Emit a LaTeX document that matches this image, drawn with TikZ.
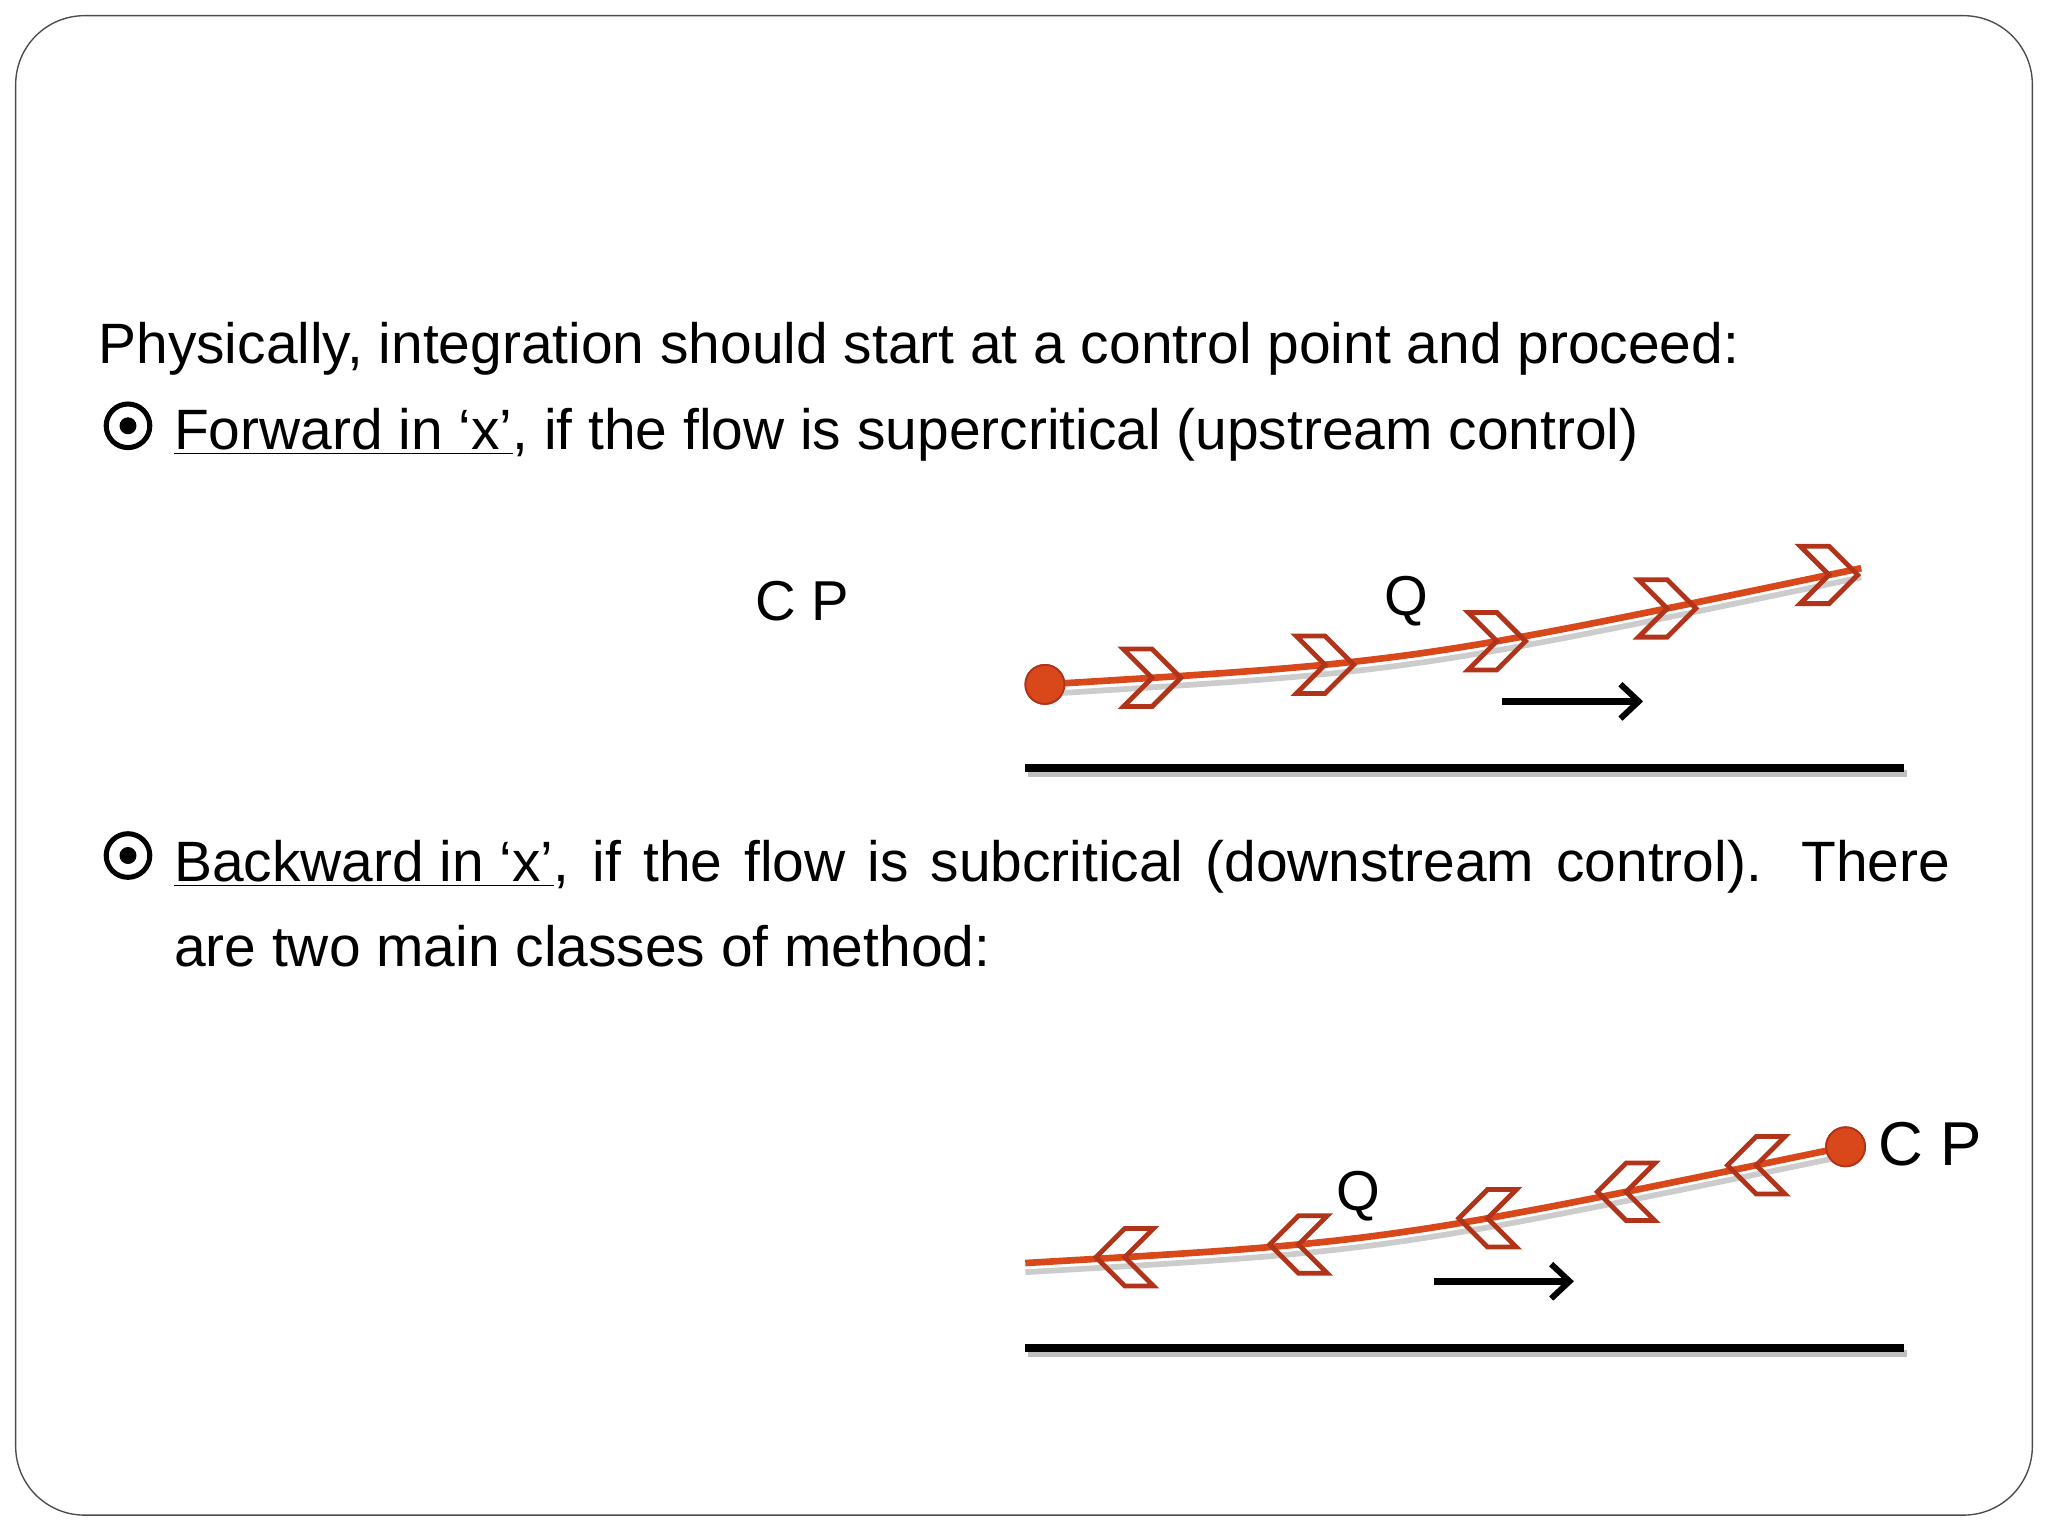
\documentclass[tikz,border=0pt]{standalone}
\usepackage{fontspec}
\setmainfont{Liberation Sans}
\usetikzlibrary{arrows.meta,decorations.markings}
\definecolor{flow}{HTML}{D9481B}
\definecolor{chev}{HTML}{B0331A}
\tikzset{
  flowline/.style={line width=2.9pt,color=flow},
  fwd/.pic={\draw[chev,line width=2.1pt,line join=miter] (-22,22)--(0,22)--(22,0)--(0,-22)--(-22,-22)--(0,0)--cycle;},
  bwd/.pic={\draw[chev,line width=2.1pt,line join=miter] (22,22)--(0,22)--(-22,0)--(0,-22)--(22,-22)--(0,0)--cycle;},
  dotcp/.style={circle,fill=flow,draw=chev,line width=0.8pt,minimum size=17pt,inner sep=0pt},
  ground/.style={line width=3.4pt,black},
  shade/.style={line width=3pt,black!25},
  dirarrow/.style={line width=3pt,-{Straight Barb[length=8pt,width=15pt,line width=2.6pt]}},
  lbl/.style={font=\fontsize{24.5}{28}\selectfont,inner sep=0pt},
  bodytxt/.style={font=\fontsize{24.8}{37}\selectfont,inner sep=0pt,anchor=base west},
  bul/.style={circle,draw=black,line width=2.2pt,minimum size=19pt,inner sep=0pt}
}
\begin{document}
\begin{tikzpicture}[x=0.02cm,y=-0.02cm]
\useasboundingbox (0,0) rectangle (1568,1176);
\draw[black!70,line width=0.6pt,rounded corners=30pt] (12,12) rectangle (1556,1160);

\node[bodytxt] (t1) at (75,278) {Physically, integration should start at a control point and proceed:};
\node[bul] (b1) at (98,326) {}; \fill (b1) circle (6.5);
\node[bodytxt] (t2) at (133,344) {\underline{Forward in ‘x’}, if the flow is supercritical (upstream control)};
\node[bul] (b2) at (98,655) {}; \fill (b2) circle (6.5);
\node[bodytxt,anchor=north west,text width=27.2cm,align=justify] (t3) at (133,643) {\underline{Backward in ‘x’}, if the flow is subcritical (downstream control). There are two main classes of method:};

% diagram 1
\node[lbl] (cp1) at (614,460) {C P};
\node[lbl] (q1) at (1077,460) {Q};
\draw[shade] (787,592) -- (1460,592);
\draw[ground] (785,588) -- (1458,588);
\coordinate (a1s) at (1150,537); \coordinate (a1e) at (1258,537);
\draw[dirarrow] (a1s) -- (a1e);
\node[dotcp] (d1) at (800,524) {};
\draw[black!20,line width=2.5pt] (806,531) .. controls (1080,514) .. (1425,442);
\coordinate (e1) at (1425,435);
\draw[flowline,postaction={decorate},decoration={markings,
  mark=at position 0.13 with {\pic{fwd};},
  mark=at position 0.34 with {\pic{fwd};},
  mark=at position 0.55 with {\pic{fwd};},
  mark=at position 0.76 with {\pic{fwd};},
  mark=at position 0.96 with {\pic{fwd};}}]
  (d1.center) .. controls (1080,507) .. (e1);
\node[dotcp] at (d1) {};

% diagram 2
\node[lbl,font=\fontsize{27}{30}\selectfont] (cp2) at (1478,876) {C P};
\node[lbl] (q2) at (1040,916) {Q};
\draw[shade] (787,1036) -- (1460,1036);
\draw[ground] (785,1032) -- (1458,1032);
\coordinate (a2s) at (1098,981); \coordinate (a2e) at (1205,981);
\draw[dirarrow] (a2s) -- (a2e);
\node[dotcp] (d2) at (1413,878) {};
\coordinate (s2) at (785,967);
\draw[black!20,line width=2.5pt] (785,974) .. controls (1060,958) .. (1413,885);
\draw[flowline,postaction={decorate},decoration={markings,
  mark=at position 0.12 with {\pic{bwd};},
  mark=at position 0.33 with {\pic{bwd};},
  mark=at position 0.56 with {\pic{bwd};},
  mark=at position 0.73 with {\pic{bwd};},
  mark=at position 0.89 with {\pic{bwd};}}]
  (s2) .. controls (1060,951) .. (d2.center);
\node[dotcp] at (d2) {};
\end{tikzpicture}
\end{document}
